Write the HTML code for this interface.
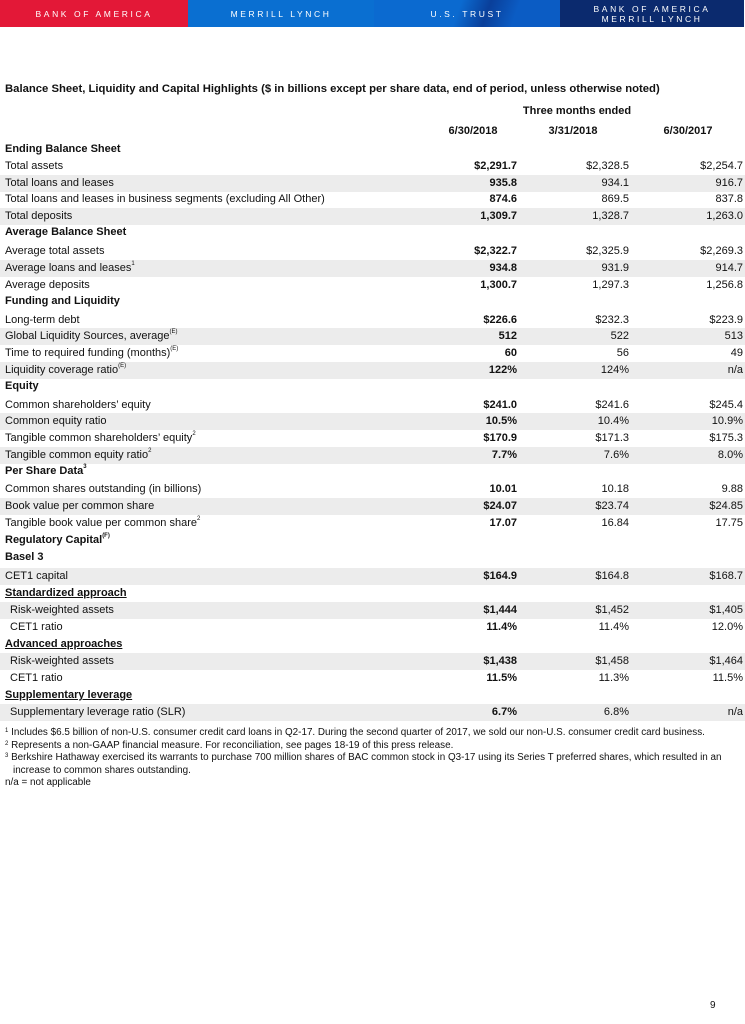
<!DOCTYPE html>
<html><head><meta charset="utf-8"><style>
body{margin:0;width:745px;height:1024px;background:#fff;position:relative;overflow:hidden;font-family:"Liberation Sans",sans-serif;color:#111;}
.bar{position:absolute;top:0;height:27px;color:#fff;font-size:8.5px;letter-spacing:2.6px;display:flex;align-items:center;justify-content:center;text-align:center;line-height:10px}
.r{position:absolute;left:0;width:745px;height:17px;font-size:11px;line-height:17px}
.s{background:#ececec}
.l{position:absolute;left:5px;white-space:nowrap}
.b{font-weight:bold}
.u{text-decoration:underline}
.v{position:absolute;text-align:right;white-space:nowrap}
.c1{right:228px}.c2{right:116px}.c3{right:2px}
sup{font-size:6px;vertical-align:top;line-height:8px}
.fn{position:absolute;left:5px;font-size:9.9px;white-space:nowrap;line-height:12px}
</style></head><body>
<div class="bar" style="left:0;width:188px;background:#e31837">BANK OF AMERICA</div>
<div class="bar" style="left:188px;width:186px;background:#0a6fd1">MERRILL LYNCH</div>
<div class="bar" style="left:374px;width:186px;background:linear-gradient(110deg,#0b6ad0 45%,#0a3f9a 60%,#0b5cc4 75%)">U.S. TRUST</div>
<div class="bar" style="left:560px;width:184px;background:#0b2a6e">BANK OF AMERICA<br>MERRILL LYNCH</div>

<div style="position:absolute;left:5px;top:83px;font-size:11.3px;font-weight:bold;white-space:nowrap">Balance Sheet, Liquidity and Capital Highlights ($ in billions except per share data, end of period, unless otherwise noted)</div>
<div style="position:absolute;left:500px;width:154px;top:105px;font-size:11px;font-weight:bold;text-align:center">Three months ended</div>
<div style="position:absolute;left:430px;width:86px;top:125px;font-size:11px;font-weight:bold;text-align:center">6/30/2018</div>
<div style="position:absolute;left:530px;width:86px;top:125px;font-size:11px;font-weight:bold;text-align:center">3/31/2018</div>
<div style="position:absolute;left:645px;width:86px;top:125px;font-size:11px;font-weight:bold;text-align:center">6/30/2017</div>

<div class="r" style="top:141px"><span class="l b">Ending Balance Sheet</span></div>
<div class="r" style="top:158px"><span class="l">Total assets</span><span class="v c1 b">$2,291.7</span><span class="v c2">$2,328.5</span><span class="v c3">$2,254.7</span></div>
<div class="r s" style="top:175px"><span class="l">Total loans and leases</span><span class="v c1 b">935.8</span><span class="v c2">934.1</span><span class="v c3">916.7</span></div>
<div class="r" style="top:191px"><span class="l">Total loans and leases in business segments (excluding All Other)</span><span class="v c1 b">874.6</span><span class="v c2">869.5</span><span class="v c3">837.8</span></div>
<div class="r s" style="top:208px"><span class="l">Total deposits</span><span class="v c1 b">1,309.7</span><span class="v c2">1,328.7</span><span class="v c3">1,263.0</span></div>
<div class="r" style="top:224px"><span class="l b">Average Balance Sheet</span></div>
<div class="r" style="top:243px"><span class="l">Average total assets</span><span class="v c1 b">$2,322.7</span><span class="v c2">$2,325.9</span><span class="v c3">$2,269.3</span></div>
<div class="r s" style="top:260px"><span class="l">Average loans and leases<sup>1</sup></span><span class="v c1 b">934.8</span><span class="v c2">931.9</span><span class="v c3">914.7</span></div>
<div class="r" style="top:277px"><span class="l">Average deposits</span><span class="v c1 b">1,300.7</span><span class="v c2">1,297.3</span><span class="v c3">1,256.8</span></div>
<div class="r" style="top:293px"><span class="l b">Funding and Liquidity</span></div>
<div class="r" style="top:312px"><span class="l">Long-term debt</span><span class="v c1 b">$226.6</span><span class="v c2">$232.3</span><span class="v c3">$223.9</span></div>
<div class="r s" style="top:328px"><span class="l">Global Liquidity Sources, average<sup>(E)</sup></span><span class="v c1 b">512</span><span class="v c2">522</span><span class="v c3">513</span></div>
<div class="r" style="top:345px"><span class="l">Time to required funding (months)<sup>(E)</sup></span><span class="v c1 b">60</span><span class="v c2">56</span><span class="v c3">49</span></div>
<div class="r s" style="top:362px"><span class="l">Liquidity coverage ratio<sup>(E)</sup></span><span class="v c1 b">122%</span><span class="v c2">124%</span><span class="v c3">n/a</span></div>
<div class="r" style="top:378px"><span class="l b">Equity</span></div>
<div class="r" style="top:397px"><span class="l">Common shareholders’ equity</span><span class="v c1 b">$241.0</span><span class="v c2">$241.6</span><span class="v c3">$245.4</span></div>
<div class="r s" style="top:413px"><span class="l">Common equity ratio</span><span class="v c1 b">10.5%</span><span class="v c2">10.4%</span><span class="v c3">10.9%</span></div>
<div class="r" style="top:430px"><span class="l">Tangible common shareholders’ equity<sup>2</sup></span><span class="v c1 b">$170.9</span><span class="v c2">$171.3</span><span class="v c3">$175.3</span></div>
<div class="r s" style="top:447px"><span class="l">Tangible common equity ratio<sup>2</sup></span><span class="v c1 b">7.7%</span><span class="v c2">7.6%</span><span class="v c3">8.0%</span></div>
<div class="r" style="top:463px"><span class="l b">Per Share Data<sup>3</sup></span></div>
<div class="r" style="top:481px"><span class="l">Common shares outstanding (in billions)</span><span class="v c1 b">10.01</span><span class="v c2">10.18</span><span class="v c3">9.88</span></div>
<div class="r s" style="top:498px"><span class="l">Book value per common share</span><span class="v c1 b">$24.07</span><span class="v c2">$23.74</span><span class="v c3">$24.85</span></div>
<div class="r" style="top:515px"><span class="l">Tangible book value per common share<sup>2</sup></span><span class="v c1 b">17.07</span><span class="v c2">16.84</span><span class="v c3">17.75</span></div>
<div class="r" style="top:532px"><span class="l b">Regulatory Capital<sup>(F)</sup></span></div>
<div class="r" style="top:549px"><span class="l b">Basel 3</span></div>
<div class="r s" style="top:568px"><span class="l">CET1 capital</span><span class="v c1 b">$164.9</span><span class="v c2">$164.8</span><span class="v c3">$168.7</span></div>
<div class="r" style="top:585px"><span class="l b u">Standardized approach</span></div>
<div class="r s" style="top:602px"><span class="l" style="left:10px">Risk-weighted assets</span><span class="v c1 b">$1,444</span><span class="v c2">$1,452</span><span class="v c3">$1,405</span></div>
<div class="r" style="top:619px"><span class="l" style="left:10px">CET1 ratio</span><span class="v c1 b">11.4%</span><span class="v c2">11.4%</span><span class="v c3">12.0%</span></div>
<div class="r" style="top:636px"><span class="l b u">Advanced approaches</span></div>
<div class="r s" style="top:653px"><span class="l" style="left:10px">Risk-weighted assets</span><span class="v c1 b">$1,438</span><span class="v c2">$1,458</span><span class="v c3">$1,464</span></div>
<div class="r" style="top:670px"><span class="l" style="left:10px">CET1 ratio</span><span class="v c1 b">11.5%</span><span class="v c2">11.3%</span><span class="v c3">11.5%</span></div>
<div class="r" style="top:687px"><span class="l b u">Supplementary leverage</span></div>
<div class="r s" style="top:704px"><span class="l" style="left:10px">Supplementary leverage ratio (SLR)</span><span class="v c1 b">6.7%</span><span class="v c2">6.8%</span><span class="v c3">n/a</span></div>

<div class="fn" style="top:727px"><sup>1</sup> Includes $6.5 billion of non-U.S. consumer credit card loans in Q2-17. During the second quarter of 2017, we sold our non-U.S. consumer credit card business.</div>
<div class="fn" style="top:740px"><sup>2</sup> Represents a non-GAAP financial measure. For reconciliation, see pages 18-19 of this press release.</div>
<div class="fn" style="top:752px"><sup>3</sup> Berkshire Hathaway exercised its warrants to purchase 700 million shares of BAC common stock in Q3-17 using its Series T preferred shares, which resulted in an</div>
<div class="fn" style="top:765px;left:13px">increase to common shares outstanding.</div>
<div class="fn" style="top:777px">n/a = not applicable</div>

<div style="position:absolute;left:710px;top:1000px;font-size:10px">9</div>
</body></html>
